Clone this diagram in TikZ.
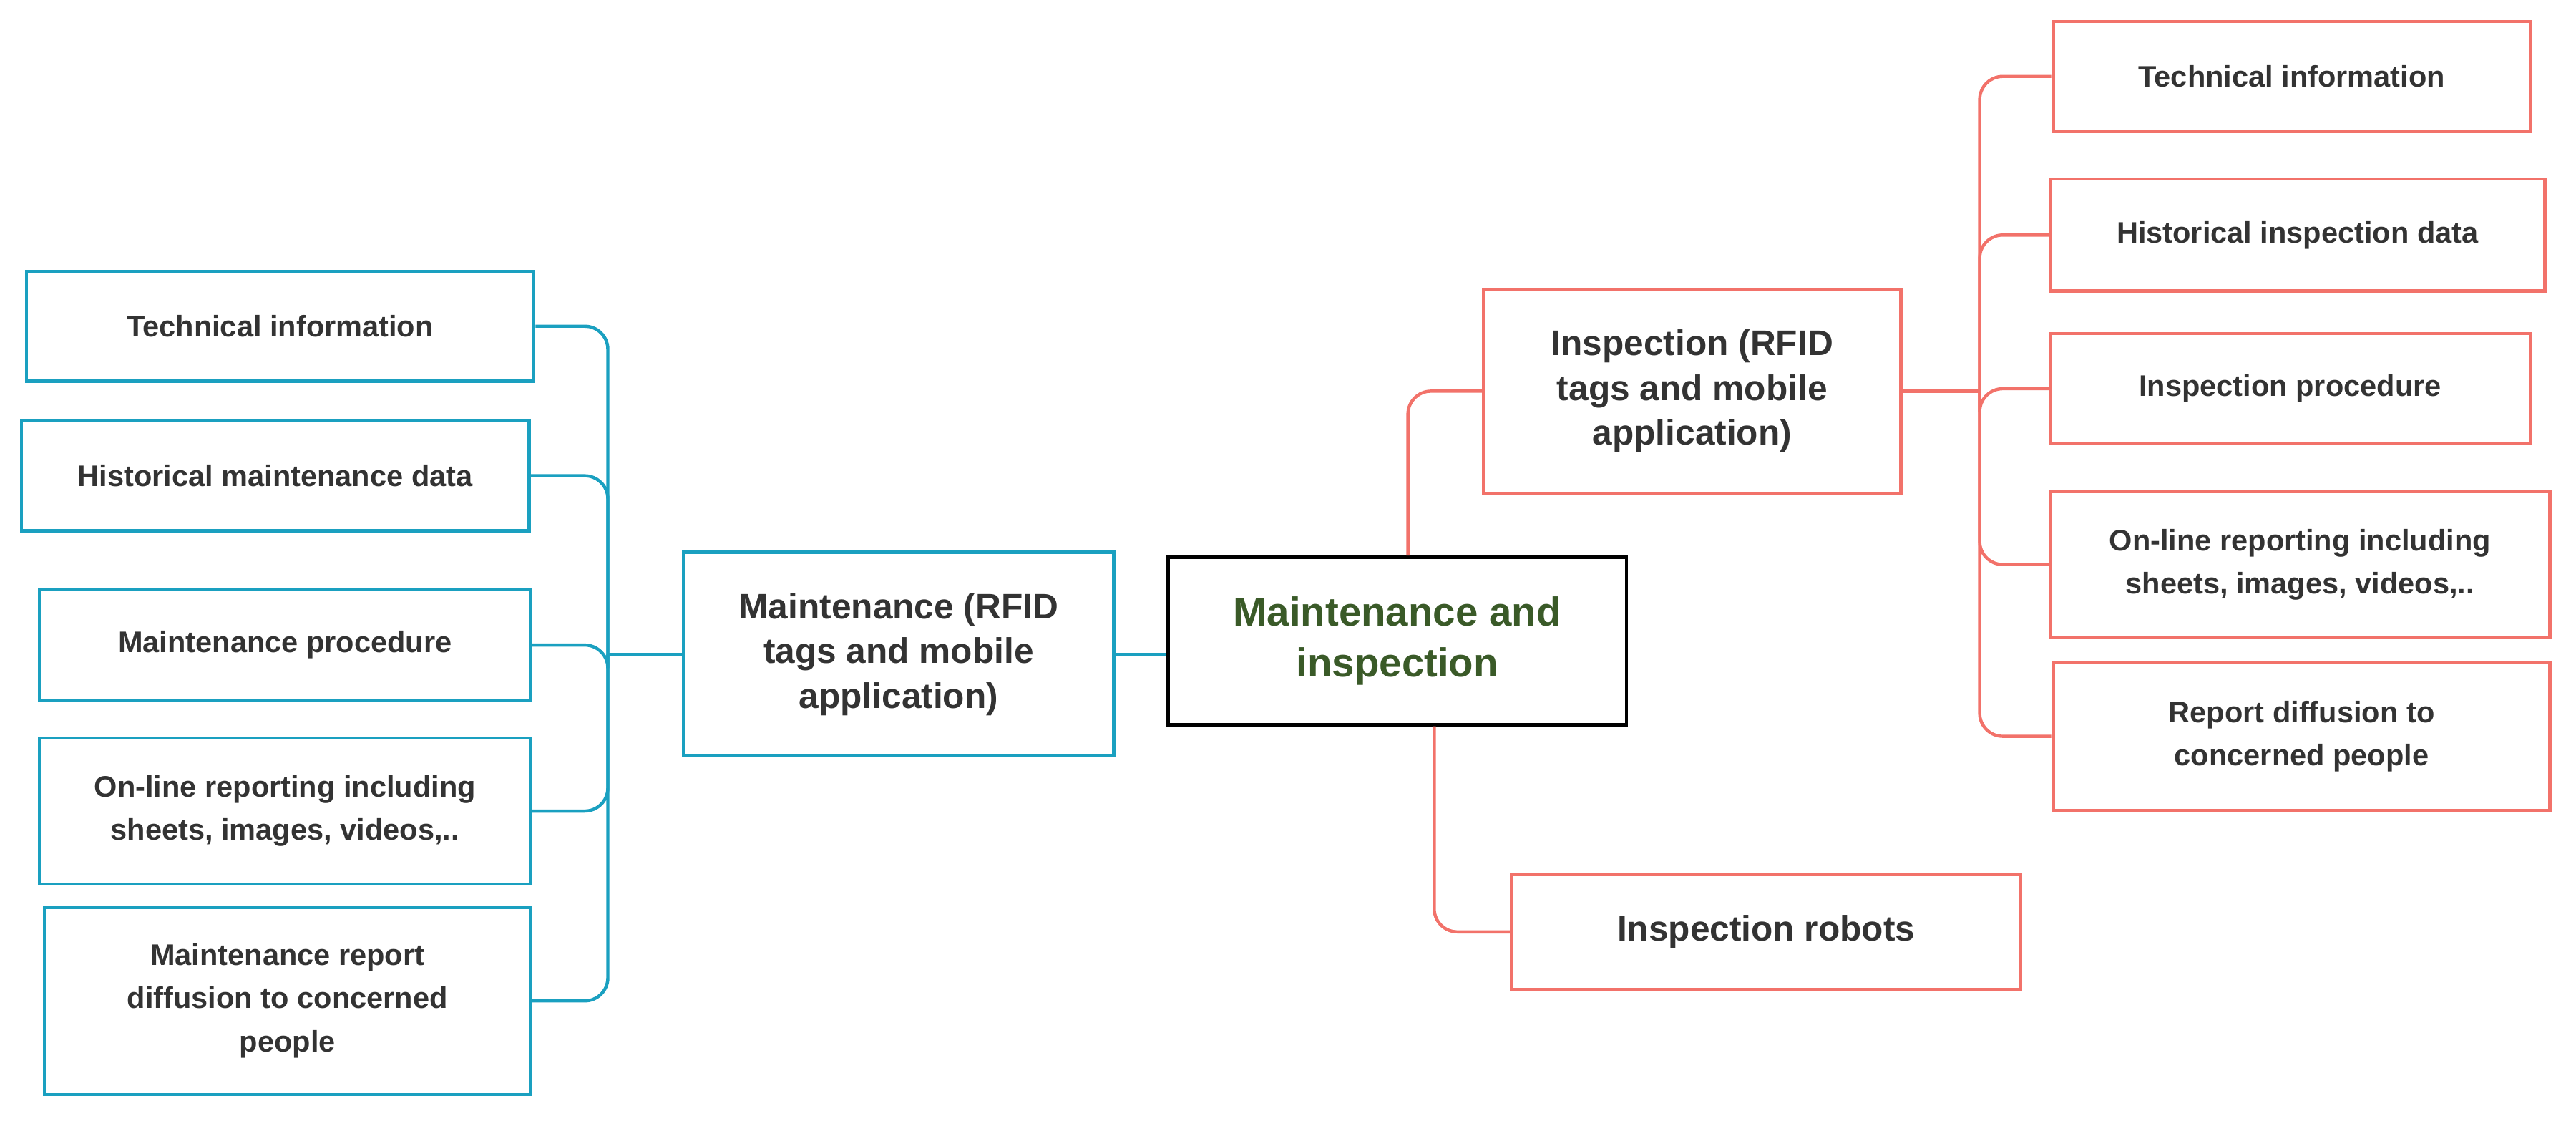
\documentclass[tikz,border=0pt]{standalone}
\usepackage{fontspec}
\setmainfont{Liberation Sans}
\definecolor{bl}{HTML}{1AA0C0}
\definecolor{rd}{HTML}{F2726A}
\definecolor{gr}{HTML}{3A5A28}
\definecolor{tx}{HTML}{333333}
\begin{document}
\begin{tikzpicture}[x=0.02cm,y=-0.02cm,
 bx/.style={draw, line width=1.1pt, fill=white, align=center, font=\bfseries\fontsize{10.3}{15}\selectfont, text=tx, inner sep=2pt},
 bb/.style={bx,draw=bl}, rb/.style={bx,draw=rd},
 big/.style={font=\bfseries\fontsize{12.3}{15.5}\selectfont},
 lb/.style={line width=1.1pt,draw=bl,rounded corners=8pt},
 lr/.style={line width=1.1pt,draw=rd,rounded corners=8pt}]
\useasboundingbox (0,0) rectangle (1568,685);
\newcommand\bxat[6]{\node[#1,minimum width=(#4-#2)*0.02cm,minimum height=(#5-#3)*0.02cm] (#6) at ({(#2+#4)/2},{(#3+#5)/2})}
\bxat{bb}{16}{165}{325}{232}{L1} {Technical information};
\bxat{bb}{13}{256}{322}{323}{L2} {Historical maintenance data};
\bxat{bb}{24}{359}{323}{426}{L3} {Maintenance procedure};
\bxat{bb}{24}{449}{323}{538}{L4} {On-line reporting including\\sheets, images, videos,..};
\bxat{bb}{27}{552}{323}{666}{L5} {Maintenance report\\diffusion to concerned\\people};
\bxat{bb,big}{416}{336}{678}{460}{M} {Maintenance (RFID\\tags and mobile\\application)};
\bxat{bx,draw=black,text=gr,font=\bfseries\fontsize{14}{17.5}\selectfont}{711}{339}{990}{441}{C} {Maintenance and\\inspection};
\bxat{rb,big}{903}{176}{1157}{300}{I} {Inspection (RFID\\tags and mobile\\application)};
\bxat{rb}{1250}{13}{1540}{80}{R1} {Technical information};
\bxat{rb}{1248}{109}{1549}{177}{R2} {Historical inspection data};
\bxat{rb}{1248}{203}{1540}{270}{R3} {Inspection procedure};
\bxat{rb}{1248}{299}{1552}{388}{R4} {On-line reporting including\\sheets, images, videos,..};
\bxat{rb}{1250}{403}{1552}{493}{R5} {Report diffusion to\\concerned people};
\bxat{rb,big}{920}{532}{1230}{602}{RB} {Inspection robots};
\coordinate (jL) at (370,398);
\coordinate (jR) at (1205,238);
\foreach \n in {L1,L2,L3,L4,L5} \draw[lb] (\n.east) -| (jL);
\draw[lb] (jL) -- (M.west);
\draw[lb] (M.east |- jL) -- (C.west |- jL);
\foreach \n in {R1,R2,R3,R4,R5} \draw[lr] (jR) |- (\n.west);
\draw[lr] (I.east) -- (jR);
\draw[lr] (C.north -| 857,0) |- (I.west);
\draw[lr] (C.south -| 873,0) |- (RB.west);
\end{tikzpicture}
\end{document}
